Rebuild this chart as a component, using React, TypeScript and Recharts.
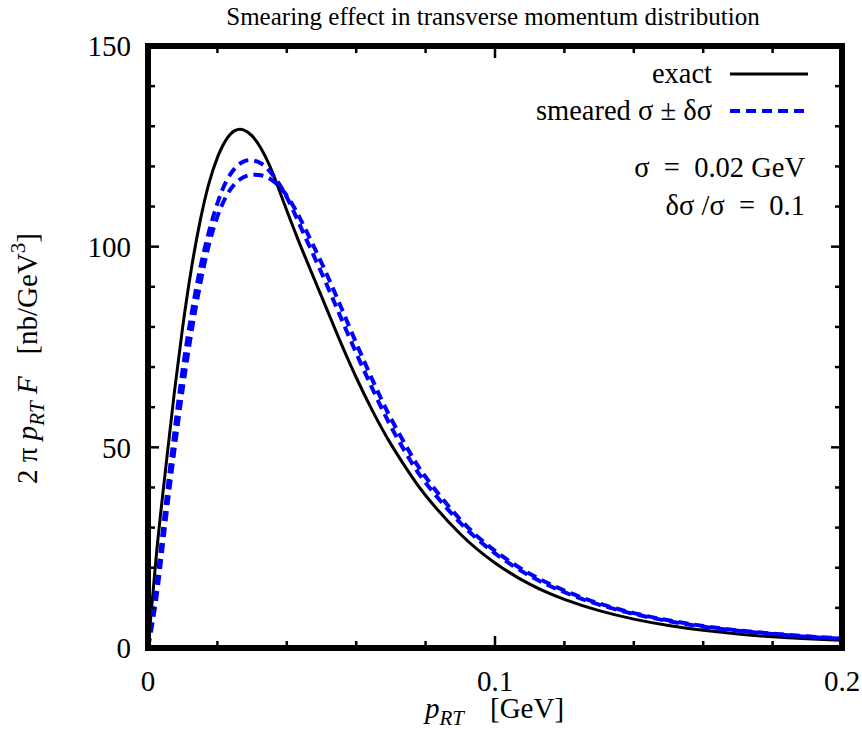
import React from "react";
import { LineChart, Line, XAxis, YAxis, Legend } from "recharts";

document.body.style.margin = "0";

const FONT = "'Liberation Serif', 'Times New Roman', serif";

// p_RT in GeV
const pRT = [
  0, 0.0025, 0.005, 0.0075, 0.01, 0.0125, 0.015, 0.0175, 0.02, 0.0225, 0.025,
  0.0275, 0.03, 0.0325, 0.035, 0.0375, 0.04, 0.0425, 0.045, 0.05, 0.055, 0.06,
  0.065, 0.07, 0.075, 0.08, 0.09, 0.1, 0.11, 0.12, 0.13, 0.14, 0.15, 0.16, 0.17,
  0.18, 0.19, 0.2,
];
const exact = [
  0, 24, 44, 63, 80, 94.5, 106.3, 115.6, 122.2, 126.6, 128.9, 129.1, 127.6,
  124.6, 120.3, 114.8, 109, 103.4, 98, 87.6, 77.2, 67.4, 58.6, 50.8, 44, 38,
  28.4, 21.2, 15.9, 12.1, 9.3, 7.2, 5.6, 4.4, 3.5, 2.8, 2.3, 1.9,
];
// sigma - delta sigma
const smearedHi = [
  0, 16, 35, 53, 69.5, 83, 94.5, 103.5, 110.8, 116.2, 119.5, 121.2, 121.5,
  120.8, 118.9, 116, 112.3, 107.8, 103, 93.5, 83.5, 73.5, 64, 55.2, 47.6, 41.2,
  31.2, 23.6, 18, 13.9, 10.8, 8.5, 6.7, 5.3, 4.3, 3.5, 2.8, 2.3,
];
// sigma + delta sigma
const smearedLo = [
  0, 13, 31, 48.5, 64.5, 78.5, 90.5, 100.3, 107.5, 112.5, 115.6, 117.3, 117.9,
  117.8, 117, 115.3, 112.7, 109.2, 105, 96, 86.2, 76, 66.2, 57.2, 49.4, 42.6,
  32, 24.2, 18.5, 14.3, 11.1, 8.7, 6.9, 5.5, 4.4, 3.6, 2.9, 2.4,
];

const xMajor = [0, 0.1, 0.2];
const xMinor = [0.02, 0.04, 0.06, 0.08, 0.12, 0.14, 0.16, 0.18];
const xAll = [...xMajor, ...xMinor].sort((a, b) => a - b);
const yMajor = [0, 50, 100, 150];
const yMinor = [10, 20, 30, 40, 60, 70, 80, 90, 110, 120, 130, 140];

const rows = pRT.map((x, i) => ({
  x,
  exact: exact[i],
  hi: smearedHi[i],
  lo: smearedLo[i],
}));

const W = 862;
const H = 735;
const MARGIN = { left: 147, right: 20, top: 46, bottom: 86 };
const X_TICK_MARGIN = 22;
// plot box (y axis takes 1px, x axis takes 1px)
const plotL = MARGIN.left + 1;
const plotR = W - MARGIN.right;
const plotT = MARGIN.top;
const plotB = H - MARGIN.bottom - 1;
const xPx = (v: number) => plotL + (v / 0.2) * (plotR - plotL);

const frame = { stroke: "#000", strokeWidth: 6, strokeLinecap: "square" as const };
const tickLn = { stroke: "#000", strokeWidth: 2.5 };
const tickText = { fill: "#000", fontSize: 29, fontFamily: FONT };
const noLabel = () => <g />;

// bottom axis label only on the major ticks
const XTick = (props: any) => {
  const { x, y, payload } = props;
  if (!xMajor.includes(payload.value)) return <g />;
  return (
    <text x={x} y={y} dy="0.71em" textAnchor="middle" fill="#000" fontSize={29} fontFamily={FONT}>
      {payload.value}
    </text>
  );
};

const LegendBox = ({ payload }: any) => (
  <div style={{ fontFamily: FONT, fontSize: 28.5, color: "#000" }}>
    {(payload || [])
      .filter((e: any) => e.type !== "none")
      .map((e: any) => (
        <div
          key={e.value}
          style={{
            display: "flex",
            justifyContent: "flex-end",
            alignItems: "center",
            height: 37,
            whiteSpace: "pre",
          }}
        >
          <span style={{ marginRight: 18 }}>{e.value}</span>
          <svg width={78} height={10}>
            <line
              x1={0}
              x2={78}
              y1={5}
              y2={5}
              stroke={e.color}
              strokeWidth={e.payload?.strokeWidth}
              strokeDasharray={e.payload?.strokeDasharray}
            />
          </svg>
        </div>
      ))}
  </div>
);

export default function App() {
  return (
    <div style={{ position: "relative", width: W, height: H, background: "#fff" }}>
      <LineChart width={W} height={H} data={rows} margin={MARGIN}>
        <XAxis
          xAxisId="x"
          dataKey="x"
          type="number"
          domain={[0, 0.2]}
          ticks={xAll}
          height={1}
          tickSize={0}
          tickMargin={X_TICK_MARGIN}
          axisLine={frame}
          tickLine={false}
          tick={<XTick />}
          interval={0}
          allowDataOverflow
        />
        {/* frame line on top */}
        <XAxis xAxisId="xt" dataKey="x" orientation="top" type="number" domain={[0, 0.2]}
          mirror height={1} allowDataOverflow tick={noLabel} tickLine={false} axisLine={frame} />

        <YAxis
          yAxisId="y"
          type="number"
          domain={[0, 150]}
          ticks={yMajor}
          width={1}
          tickSize={0}
          tickMargin={17}
          axisLine={false}
          tickLine={false}
          tick={tickText}
          interval={0}
          allowDataOverflow
        />
        <YAxis yAxisId="yl1" type="number" domain={[0, 150]} ticks={yMajor} mirror width={1} allowDataOverflow
          interval={0} tickSize={11} tick={noLabel} axisLine={frame} tickLine={tickLn} />
        <YAxis yAxisId="yl2" type="number" domain={[0, 150]} ticks={yMinor} mirror width={1} allowDataOverflow
          interval={0} tickSize={6} tick={noLabel} axisLine={false} tickLine={tickLn} />
        <YAxis yAxisId="yr1" orientation="right" type="number" domain={[0, 150]} ticks={yMajor} mirror
          width={1} allowDataOverflow interval={0} tickSize={11} tick={noLabel} axisLine={frame}
          tickLine={tickLn} />
        <YAxis yAxisId="yr2" orientation="right" type="number" domain={[0, 150]} ticks={yMinor} mirror
          width={1} allowDataOverflow interval={0} tickSize={6} tick={noLabel} axisLine={false}
          tickLine={tickLn} />

        <Legend
          layout="vertical"
          align="center"
          verticalAlign="middle"
          wrapperStyle={{ top: 55, left: 398, width: 410, height: 74 }}
          content={<LegendBox />}
        />

        <Line
          xAxisId="x"
          yAxisId="y"
          dataKey="exact"
          name="exact"
          type="natural"
          stroke="#000"
          strokeWidth={3}
          dot={false}
          isAnimationActive={false}
        />
        <Line
          xAxisId="x"
          yAxisId="y"
          dataKey="hi"
          name="smeared σ ± δσ"
          type="natural"
          stroke="#0000ff"
          strokeWidth={4}
          strokeDasharray="10 6"
          dot={false}
          isAnimationActive={false}
        />
        <Line
          xAxisId="x"
          yAxisId="y"
          dataKey="lo"
          name="smeared σ + δσ"
          legendType="none"
          type="natural"
          stroke="#0000ff"
          strokeWidth={4}
          strokeDasharray="10 6"
          dot={false}
          isAnimationActive={false}
        />
      </LineChart>

      <svg
        width={W}
        height={H}
        style={{ position: "absolute", left: 0, top: 0, pointerEvents: "none" }}
        fontFamily={FONT}
        fill="#000"
      >
        {/* inward tick marks on bottom and top edges */}
        {xAll.map((v) => {
          const len = xMajor.includes(v) ? 12 : 7;
          return (
            <g key={v}>
              <rect x={xPx(v) - 1.25} y={plotB - len} width={2.5} height={len} fill="#000" />
              <rect x={xPx(v) - 1.25} y={plotT} width={2.5} height={len} fill="#000" />
            </g>
          );
        })}

        <text x={493} y={25} fontSize={25} textAnchor="middle">
          Smearing effect in transverse momentum distribution
        </text>

        <text x={805} y={177} fontSize={28.5} textAnchor="end" style={{ whiteSpace: "pre" }}>
          {"\u03c3  =  0.02 GeV"}
        </text>
        <text x={805} y={215} fontSize={28.5} textAnchor="end" style={{ whiteSpace: "pre" }}>
          {"\u03b4\u03c3 /\u03c3  =  0.1"}
        </text>

        <text x={425} y={718} fontSize={29}>
          <tspan fontStyle="italic">p</tspan>
          <tspan fontStyle="italic" fontSize={21} dy={7}>RT</tspan>
          <tspan x={490} dy={-7}>[GeV]</tspan>
        </text>

        <text transform="rotate(-90)" x={-484} y={37} fontSize={29} style={{ whiteSpace: "pre" }}>
          <tspan>{"2 \u03c0 "}</tspan>
          <tspan fontStyle="italic">p</tspan>
          <tspan fontStyle="italic" fontSize={21} dy={7}>RT</tspan>
          <tspan dy={-7}>{" "}</tspan>
          <tspan fontStyle="italic">F</tspan>
          <tspan>{"   [nb/GeV"}</tspan>
          <tspan fontSize={21} dy={-12}>3</tspan>
          <tspan dy={12}>]</tspan>
        </text>
      </svg>
    </div>
  );
}
